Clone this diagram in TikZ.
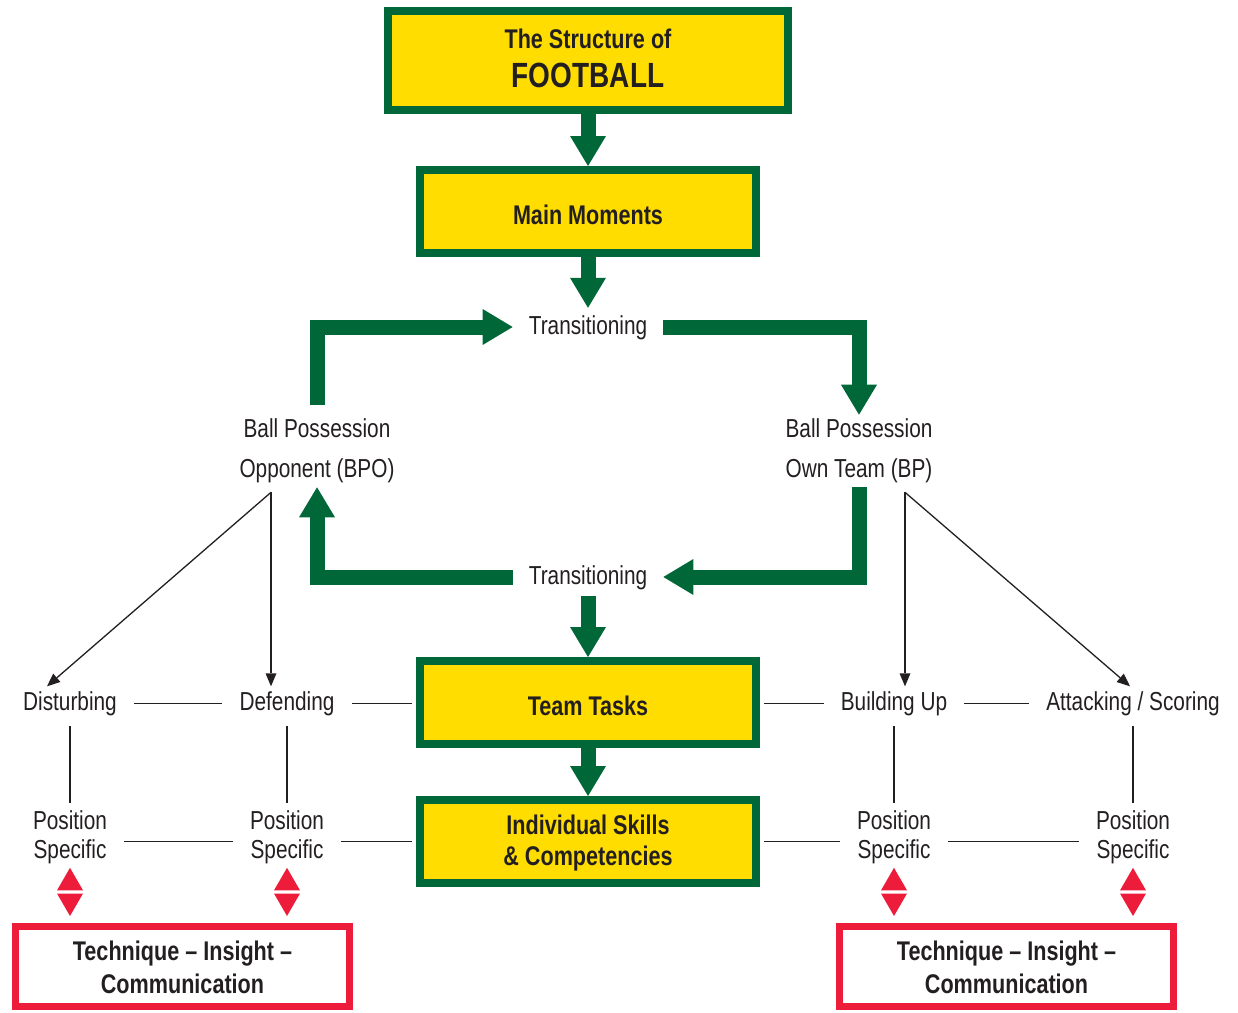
\documentclass[tikz,border=0pt]{standalone}
\usepackage{fontspec}
\setmainfont{Liberation Sans}[FakeStretch=0.8]
\usepackage{tikz}
\usetikzlibrary{arrows.meta,positioning,calc}
\definecolor{fbgreen}{RGB}{0,104,56}
\definecolor{fbyellow}{RGB}{255,221,0}
\definecolor{fbred}{RGB}{237,28,58}
\definecolor{fbtext}{RGB}{35,31,32}

\begin{document}
\begin{tikzpicture}[x = 1pt, y = -1pt,
  greenbox/.style = {draw = fbgreen, fill = fbyellow, line width = 8pt, minimum width = 336pt, minimum height = 83pt, align = center, text = fbtext, text height = 25pt, text depth = 0pt, font = \bfseries\fontsize{27}{32}\selectfont},
  redbox/.style = {draw = fbred, line width = 7pt, minimum width = 334pt, minimum height = 80pt, align = center, text = fbtext, text height = 53pt, text depth = 0pt, font = \bfseries\fontsize{27}{33}\selectfont},
  plaintext/.style = {text = fbtext, font = \fontsize{26}{29}\selectfont, inner xsep = 17pt, inner ysep = 5pt, text height = 19pt, text depth = 5pt},
  twoline/.style = {text = fbtext, align = center, inner xsep = 17pt, inner ysep = 4pt, font = \fontsize{26}{40}\selectfont},
  greenarrow/.style = {draw = fbgreen, line width = 15pt, -{Triangle[width = 36pt, length = 30pt, line width = 0pt]}},
  thinarrow/.style = {draw = fbtext, line width = 1.3pt, -{Triangle[width = 11pt, length = 13pt, line width = 0pt]}},
  thinline/.style = {draw = fbtext, line width = 1.3pt},
  redarrows/.style = {draw = white, line width = 0.1pt, {Triangle[color = fbred, fill = fbred, width = 26pt, length = 22.5pt, line width = 0pt]}-{Triangle[color = fbred, fill = fbred, width = 26pt, length = 22.5pt, line width = 0pt]}}]
\useasboundingbox (0,0) rectangle (1238,1012);

% boxes in the middle column
\node[greenbox, minimum width = 400pt, minimum height = 99pt, text height = 53pt, font = \bfseries\fontsize{27}{39}\selectfont] (football) at (588,60.5) {The Structure of\\{\fontsize{35}{39}\selectfont FOOTBALL}};
\node[greenbox] (moments) at (588,211.5) {Main Moments};
\node[plaintext, inner ysep = 7pt, inner xsep = 16pt] (trans1) at (588,327) {Transitioning};
\node[twoline] (bpo) at (317,451) {Ball Possession\\Opponent (BPO)};
\node[twoline] (bp) at (859,451) {Ball Possession\\Own Team (BP)};
\node[plaintext, inner ysep = 7pt, inner xsep = 16pt] (trans2) at (588,577) {Transitioning};
\node[greenbox] (tasks) at (588,702.5) {Team Tasks};
\node[greenbox, text height = 47pt, font = \bfseries\fontsize{27}{31}\selectfont] (skills) at (588,841.5) {Individual Skills\\\& Competencies};

% tasks row
\node[plaintext] (disturb) at (70,703.5) {Disturbing};
\node[plaintext] (defend) at (287,703.5) {Defending};
\node[plaintext] (buildup) at (894,703.5) {Building Up};
\node[plaintext] (attack) at (1133,703.5) {Attacking / Scoring};

% position specific row
\node[twoline, font = \fontsize{26}{29}\selectfont] (ps1) at (70,837) {Position\\Specific};
\node[twoline, font = \fontsize{26}{29}\selectfont] (ps2) at (287,837) {Position\\Specific};
\node[twoline, font = \fontsize{26}{29}\selectfont] (ps3) at (894,837) {Position\\Specific};
\node[twoline, font = \fontsize{26}{29}\selectfont] (ps4) at (1133,837) {Position\\Specific};

\node[redbox] (tech1) at (182.5,966.5) {Technique -- Insight --\\Communication};
\node[redbox] (tech2) at (1006.5,966.5) {Technique -- Insight --\\Communication};

% green arrows
\draw[greenarrow] (football) -- (moments);
\draw[greenarrow] (moments) -- (trans1);
\draw[greenarrow] ([yshift = 10pt]bpo.north) |- (trans1);
\draw[greenarrow] (trans1) -| (bp);
\draw[greenarrow] (bp) |- (trans2);
\draw[greenarrow] (trans2) -| (bpo);
\draw[greenarrow] (trans2) -- (tasks);
\draw[greenarrow] (tasks) -- (skills);

% thin arrows
\coordinate (bpofork) at ([xshift = -46pt, yshift = -5pt]bpo.south);
\coordinate (bpfork) at ([xshift = 46pt, yshift = -5pt]bp.south);
\draw[thinarrow] (bpofork) -- ([xshift = -23pt]disturb.north);
\draw[thinarrow] (bpofork) -- (bpofork |- defend.north);
\draw[thinarrow] (bpfork) -- (bpfork |- buildup.north);
\draw[thinarrow] (bpfork) -- ([xshift = -3pt]attack.north);

% thin lines
\draw[thinline] (disturb) -- (defend);
\draw[thinline, shorten >= 4pt] (defend.east) -- (defend.east -| tasks.west);
\draw[thinline, shorten <= 4pt] (tasks.east |- buildup.west) -- (buildup.west);
\draw[thinline] (buildup) -- (attack);
\draw[thinline, shorten <= 5pt, shorten >= 3pt] (disturb) -- (ps1);
\draw[thinline, shorten <= 5pt, shorten >= 3pt] (defend) -- (ps2);
\draw[thinline, shorten <= 5pt, shorten >= 3pt] (buildup) -- (ps3);
\draw[thinline, shorten <= 5pt, shorten >= 3pt] (attack) -- (ps4);
\draw[thinline] (ps1.east |- skills.west) -- (ps2.west |- skills.west);
\draw[thinline, shorten >= 4pt] (ps2.east |- skills.west) -- (skills.west);
\draw[thinline, shorten <= 4pt] (skills.east) -- (ps3.west |- skills.east);
\draw[thinline] (ps3.east |- skills.east) -- (ps4.west |- skills.east);

% red double arrows
\draw[redarrows, shorten >= 7pt] (ps1.south) -- (ps1.south |- tech1.north);
\draw[redarrows, shorten >= 7pt] (ps2.south) -- (ps2.south |- tech1.north);
\draw[redarrows, shorten >= 7pt] (ps3.south) -- (ps3.south |- tech2.north);
\draw[redarrows, shorten >= 7pt] (ps4.south) -- (ps4.south |- tech2.north);
\end{tikzpicture}
\end{document}
